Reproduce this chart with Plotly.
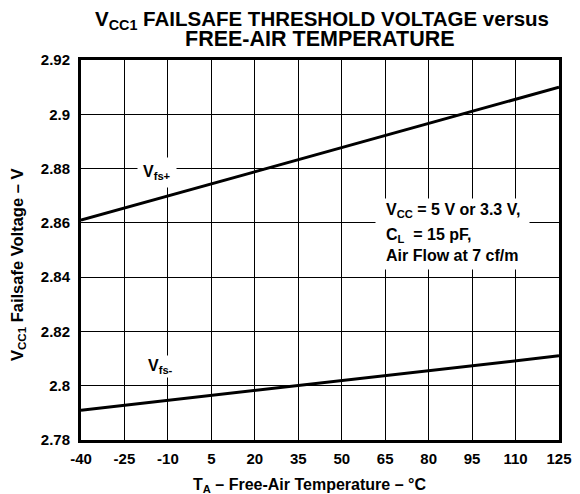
import plotly.graph_objects as go

temps = [-40, 125]
vfs_plus = [2.861, 2.910]
vfs_minus = [2.791, 2.811]
x_ticks = [-40, -25, -10, 5, 20, 35, 50, 65, 80, 95, 110, 125]
y_ticks = [2.78, 2.80, 2.82, 2.84, 2.86, 2.88, 2.90, 2.92]
y_tick_labels = ["2.78", "2.8", "2.82", "2.84", "2.86", "2.88", "2.9", "2.92"]
note_lines = ["V<sub>CC</sub> = 5 V or 3.3 V,", "C<sub>L</sub>  = 15 pF,", "Air Flow at 7 cf/m"]
note_y = [2.8645, 2.8552, 2.8478]

FONT = "Liberation Sans, Arial, sans-serif"
BLACK = "black"

fig = go.Figure()
fig.add_trace(go.Scatter(x=temps, y=vfs_plus, mode="lines",
                         line=dict(color=BLACK, width=3), showlegend=False))
fig.add_trace(go.Scatter(x=temps, y=vfs_minus, mode="lines",
                         line=dict(color=BLACK, width=3), showlegend=False))

# curve labels
fig.add_annotation(x=-13.6, y=2.8784, text="<b>V<sub>fs+</sub></b>", showarrow=False,
                   bgcolor="white", borderpad=5, font=dict(family=FONT, size=16, color=BLACK))
fig.add_annotation(x=-12.4, y=2.8071, text="<b>V<sub>fs-</sub></b>", showarrow=False,
                   bgcolor="white", borderpad=1, font=dict(family=FONT, size=16, color=BLACK))

# conditions note: white backing then three lines
fig.add_annotation(x=61.5, y=2.8558, xanchor="left", text=" ", showarrow=False,
                   width=153, height=70, bgcolor="white", borderpad=0,
                   font=dict(family=FONT, size=10, color=BLACK))
for txt, yy in zip(note_lines, note_y):
    fig.add_annotation(x=64.5, y=yy, xanchor="left", text=f"<b>{txt}</b>",
                       showarrow=False, align="left",
                       font=dict(family=FONT, size=16, color=BLACK))

# title (two lines)
fig.add_annotation(xref="paper", yref="paper", x=0.505, y=1.104, yanchor="middle",
                   text="<b>V<sub>CC1</sub> FAILSAFE THRESHOLD VOLTAGE versus</b>",
                   showarrow=False, font=dict(family=FONT, size=20.5, color=BLACK))
fig.add_annotation(xref="paper", yref="paper", x=0.501, y=1.0565, yanchor="middle",
                   text="<b>FREE-AIR TEMPERATURE</b>",
                   showarrow=False, font=dict(family=FONT, size=21.5, color=BLACK))

# axis titles
fig.add_annotation(xref="paper", yref="paper", x=0.477, y=-0.12, yanchor="middle",
                   text="<b>T<sub>A</sub> – Free-Air Temperature – °C</b>",
                   showarrow=False, font=dict(family=FONT, size=16, color=BLACK))
fig.add_annotation(xref="paper", yref="paper", x=-0.1318, y=0.4605, textangle=-90,
                   xanchor="center", yanchor="middle",
                   text="<b>V<sub>CC1</sub> Failsafe Voltage – V</b>",
                   showarrow=False, font=dict(family=FONT, size=16.5, color=BLACK))

# The page body has an 8px margin, so the figure is sized/offset to place the
# plot area where the reference has it.
fig.update_layout(
    width=572, height=486,
    margin=dict(l=73, r=21, t=52, b=54),
    paper_bgcolor="white", plot_bgcolor="white",
    font=dict(family=FONT, size=15, color=BLACK),
    xaxis=dict(range=[-40, 125], tickvals=x_ticks, ticktext=[f"<b>{v}</b>" for v in x_ticks],
               showgrid=True, gridcolor=BLACK, gridwidth=1, zeroline=False,
               showline=True, linecolor=BLACK, linewidth=3, mirror=True, ticks="",
               ticklabelstandoff=3, automargin=False,
               tickfont=dict(family=FONT, size=15, color=BLACK)),
    yaxis=dict(range=[2.78, 2.92], tickvals=y_ticks, ticktext=[f"<b>{t}</b>" for t in y_tick_labels],
               showgrid=True, gridcolor=BLACK, gridwidth=1, zeroline=False,
               showline=True, linecolor=BLACK, linewidth=3, mirror=True, ticks="",
               ticklabelstandoff=5, automargin=False,
               tickfont=dict(family=FONT, size=15, color=BLACK)),
)

fig.write_html("out.html")
